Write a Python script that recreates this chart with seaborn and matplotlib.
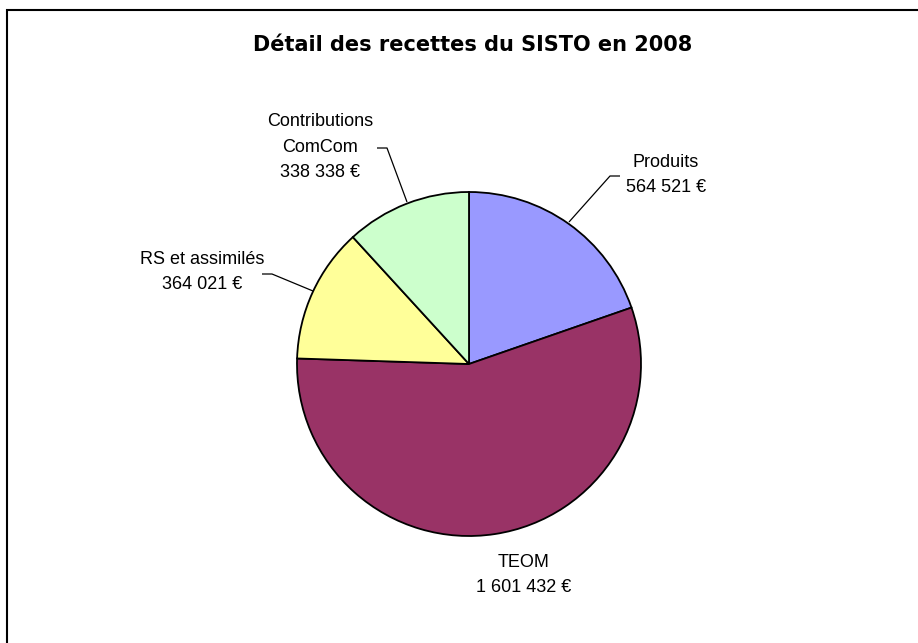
import matplotlib
matplotlib.use("Agg")
import matplotlib.pyplot as plt
import seaborn as sns
from matplotlib.patches import Rectangle

sns.set_theme(style="white")
plt.rcParams['font.family'] = ['Liberation Sans', 'DejaVu Sans']

# Data
categories = ["Produits", "TEOM", "RS et assimilés", "Contributions\nComCom"]
values = [564521, 1601432, 364021, 338338]
colors = ["#9999FF", "#993366", "#FFFF99", "#CCFFCC"]
title = "Détail des recettes du SISTO en 2008"

W, H = 918, 643
cx, cy, R = 469, 364, 172

fig = plt.figure(figsize=(W / 100, H / 100), dpi=100)
ax = fig.add_axes([0, 0, 1, 1])
ax.pie(values, colors=colors, startangle=90, counterclock=False,
       wedgeprops=dict(edgecolor="black", linewidth=1.3))
ax.set_xlim(-cx / R, (W - cx) / R)
ax.set_ylim(-(H - cy) / R, cy / R)
ax.set_aspect("auto")
ax.axis("off")

def px(x, y):
    return ((x - cx) / R, (cy - y) / R)

# label layout (pixel positions) and leader lines
label_pos = [(666, 175), (524, 575), (202, 272), (320, 147)]
leaders = [
    [(569, 222), (610, 176), (620, 176)],
    None,
    [(313, 291), (272, 274), (262, 274)],
    [(407, 202), (387, 148), (377, 148)],
]

for cat, val, pos, lead in zip(categories, values, label_pos, leaders):
    txt = f"{cat}\n{val:,}".replace(",", " ") + " €"
    x, y = px(*pos)
    ax.text(x, y, txt, ha="center", va="center", fontsize=13,
            linespacing=1.65, color="black")
    if lead:
        pts = [px(*p) for p in lead]
        ax.plot([p[0] for p in pts], [p[1] for p in pts], color="black",
                lw=0.9, solid_capstyle="butt")

fig.text(473 / W, 1 - 45 / H, title, ha="center", va="center",
         fontsize=15, fontweight="bold", family=["DejaVu Sans"],
         color="black")

fig.patches.append(Rectangle((7 / W, -0.05), 1.1, 1 - 10 / H + 0.05,
                             transform=fig.transFigure, fill=False,
                             edgecolor="black", linewidth=1.5))

fig.savefig("out.png", dpi=100, facecolor="white")
